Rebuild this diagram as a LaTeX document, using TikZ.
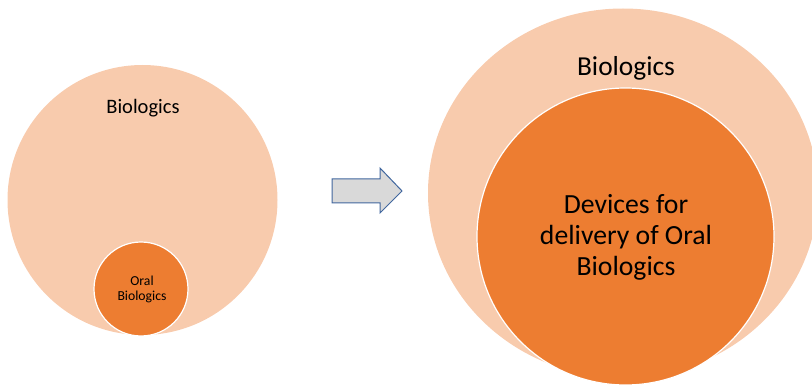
\documentclass[tikz,border=0pt]{standalone}
\usepackage{fontspec}
\setmainfont{Carlito}
\usetikzlibrary{shapes.geometric}
\definecolor{peach}{HTML}{F8CBAD}
\definecolor{orangeD}{HTML}{ED7D31}
\definecolor{arrowfill}{HTML}{D9D9D9}
\definecolor{arrowline}{HTML}{41679E}
\begin{document}
\begin{tikzpicture}[x=1pt,y=-1pt,
  outercirc/.style={ellipse, fill=peach, inner sep=0pt, outer sep=0pt},
  innercirc/.style={circle, fill=orangeD, draw=white, line width=1.2pt, inner sep=0pt, outer sep=0pt},
  lbl/.style={text=black, inner sep=0pt, align=center}]
\useasboundingbox (0,0) rectangle (812,385);
\clip (0,0) rectangle (812,385);
% left
\node[outercirc, minimum width=270pt, minimum height=270pt] (bigL) at (142.5,200) {};
\node[innercirc, minimum size=94pt] (smallL) at (141,289) {};
\node[lbl, font=\fontsize{20.5}{24}\selectfont] (tBigL) at (143,108) {Biologics};
\node[lbl, font=\fontsize{13.7}{15}\selectfont] (tSmallL) at (142,289) {Oral\\Biologics};
% arrow
\draw[fill=arrowfill, draw=arrowline, line width=1pt, line join=miter]
  (332,179) -- (380,179) -- (380,168) -- (402,191) -- (380,213) -- (380,203) -- (332,203) -- cycle;
% right
\node[outercirc, minimum width=390pt, minimum height=369pt] (bigR) at (623,193) {};
\node[innercirc, minimum size=297pt] (smallR) at (625.5,236.5) {};
\node[lbl, font=\fontsize{27.4}{31}\selectfont] (tBigR) at (626,68) {Biologics};
\node[lbl, font=\fontsize{27.7}{31}\selectfont] (tSmallR) at (626,237) {Devices for\\delivery of Oral\\Biologics};
\end{tikzpicture}
\end{document}
